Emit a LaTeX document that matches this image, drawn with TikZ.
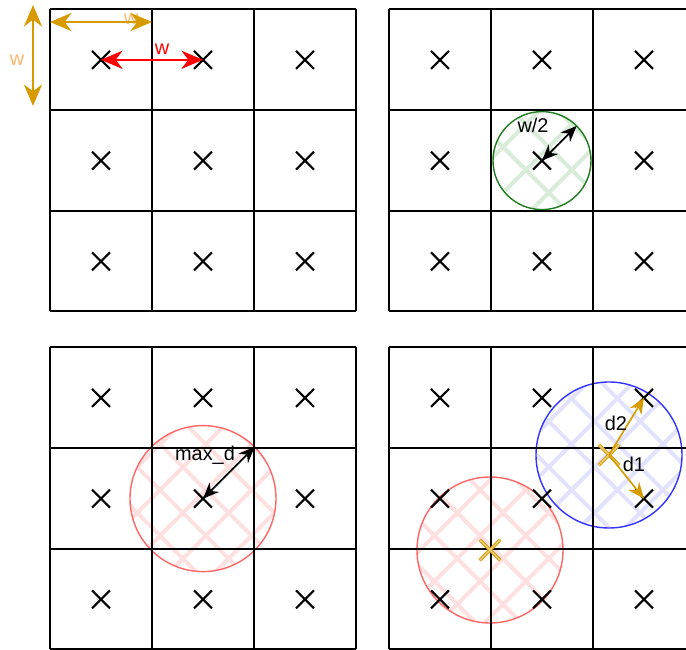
\documentclass[tikz,border=0pt]{standalone}
\usepackage{fontspec}
\setmainfont{Liberation Sans}
\usetikzlibrary{arrows.meta,shapes.misc,patterns.meta}
\definecolor{gdgold}{HTML}{D79B00}
\definecolor{gdpeach}{HTML}{FFB570}
\definecolor{gdred}{HTML}{FF0000}
\definecolor{gdpink}{HTML}{FF6666}
\definecolor{gdgreen}{HTML}{1E7B1E}
\definecolor{gdblue}{HTML}{3333FF}
\tikzset{
  cell/.style={line width=1.6pt},
  pt/.style={cross out,draw,line width=1.8pt,minimum size=0.54cm,inner sep=0pt,outer sep=0pt},
  query/.style={cross out,draw=gdgold,line width=0.9pt,double=gdgold!45,double distance=1.1pt,minimum size=0.62cm,inner sep=0pt,outer sep=0pt},
  hatch/.style={preaction={pattern color=#1,pattern={Lines[angle=45,distance=9.7mm,line width=1.2mm]}},
    pattern color=#1,pattern={Lines[angle=-45,distance=9.7mm,line width=1.2mm]}},
  reach/.style={circle,draw=#1,line width=1.2pt,inner sep=0pt,outer sep=0pt},
  bigdim/.style={{Stealth[length=6.5mm,width=5.5mm]}-{Stealth[length=6.5mm,width=5.5mm]}},
  dim/.style={{Stealth[length=4.8mm,width=4mm]}-{Stealth[length=4.8mm,width=4mm]},line width=1.5pt},
  dimto/.style={-{Stealth[length=4.8mm,width=4mm]},line width=1.4pt},
  lbl/.style={font=\fontsize{17}{20}\selectfont,inner sep=1pt},
}
\begin{document}
\begin{tikzpicture}[x=0.03cm,y=-0.03cm]
  \path[use as bounding box,clip] (0,0) rectangle (686,650);
  % search circles
  \node[reach=gdgreen,hatch=green!50!black!15,minimum size=2.94cm] (reachw) at (542,160.6) {};
  \node[reach=gdpink,hatch=gdpink!20,minimum size=4.38cm] (maxd) at (203,498.6) {};
  \node[reach=gdpink,hatch=gdpink!20,minimum size=4.38cm] (reacha) at (490,550) {};
  \node[reach=gdblue,hatch=gdblue!14,minimum size=4.38cm] (reachb) at (609,455) {};
  % four 3x3 grids with their points
  \foreach \pn/\ox/\oy in {tl/50/9,tr/389/9,bl/50/347,br/389/347}{
    \foreach \k in {0,...,3}{
      \draw[cell] (\ox+\k*102,\oy) -- (\ox+\k*102,\oy+302);
      \draw[cell] (\ox,\oy+\k*100.8) -- (\ox+306,\oy+\k*100.8);
    }
    \foreach \i in {1,2,3}{
      \foreach \j in {1,2,3}{
        \node[pt] (\pn\j\i) at (\ox-51+\i*102,\oy-50+\j*100.8) {};
      }
    }
  }
  \node[query] (qa) at (reacha.center) {};
  \node[query] (qb) at (reachb.center) {};
  % cell size
  \coordinate (wl) at (50,22);
  \coordinate (wr) at (152,22);
  \coordinate (wt) at (33,5);
  \coordinate (wb) at (33,106);
  \node[lbl,text=gdpeach] (wtop) at (131,19) {w};
  \node[lbl,text=gdpeach] (wside) at (17,60) {w};
  \draw[bigdim,gdgold,line width=1.2pt] (wl) -- (wr);
  \draw[bigdim,gdgold,line width=1.2pt] (wt) -- (wb);
  \draw[bigdim,gdred,line width=1.6pt] (tl11.center) -- (tl12.center);
  \node[lbl,text=gdred] (wpts) at (162,49) {w};
  % radii
  \draw[dim] (tr22.center) -- (reachw.north east);
  \node[lbl] (half) at (533,125) {w/2};
  \draw[dim] (bl22.center) -- (maxd.north east);
  \node[lbl] (maxlbl) at (205,455) {max\_d};
  \draw[dimto,gdgold] (qb.center) -- (br13.center);
  \draw[dimto,gdgold] (qb.center) -- (br23.center);
  \node[lbl] (dtwo) at (616,423) {d2};
  \node[lbl] (done) at (634,464) {d1};
\end{tikzpicture}
\end{document}
